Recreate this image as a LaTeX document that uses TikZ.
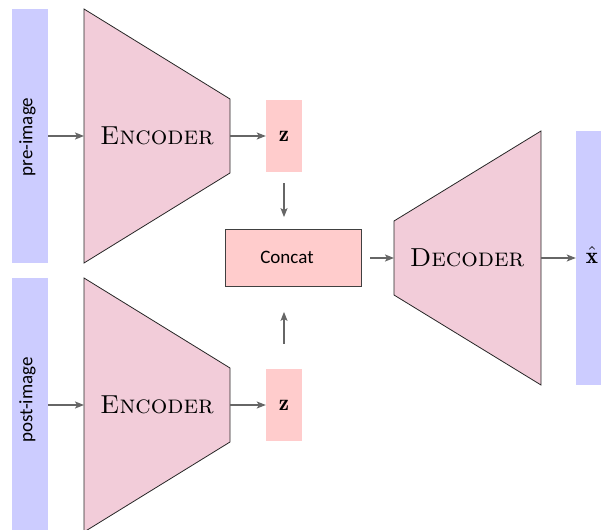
\documentclass[tikz,border=0pt]{standalone}
\usepackage{fontspec}
\newfontfamily\calibri{Carlito}
\usetikzlibrary{arrows.meta}

\begin{document}
\begin{tikzpicture}[x=1pt,y=-1pt,
  bar/.style={fill=blue!20, draw=none, minimum width=36pt, minimum height=254pt, inner sep=0pt},
  zbox/.style={fill=red!20, draw=none, minimum width=36pt, minimum height=72pt, inner sep=0pt},
  concatbox/.style={fill=red!20, draw=black!75, line width=0.8pt, minimum width=136pt,
    minimum height=57pt, inner sep=0pt},
  plainlabel/.style={font=\calibri\fontsize{19}{23}\selectfont, inner sep=0pt},
  coder/.style={fill=purple!20, draw=black!85, line width=0.8pt, line join=miter},
  coderlabel/.style={font=\fontsize{26}{30}\selectfont\scshape, inner sep=0pt},
  sidelabel/.style={font=\calibri\fontsize{19}{23}\selectfont, rotate=90, inner sep=0pt},
  arr/.style={draw=black!60, line width=1.3pt, -{Stealth[length=9pt,width=7pt,inset=2pt]}}
]
\useasboundingbox (0,0) rectangle (601,529);
\clip (0,0) rectangle (601,529);

% input and output strips
\node[bar] (pre)  at (30,136) {};
\node[bar] (post) at (30,405) {};
\node[bar] (out)  at (594,258) {};
\node[sidelabel] (prelbl)  at (27.5,137) {pre-image};
\node[sidelabel] (postlbl) at (27.5,400) {post-image};

% encoders
\draw[coder] (84,9) -- (230,99) -- (230,173) -- (84,263) -- cycle;
\draw[coder] (84,278) -- (230,368) -- (230,442) -- (84,532) -- cycle;
\coordinate (enc1in)  at (84,136);
\coordinate (enc1out) at (230,136);
\coordinate (enc2in)  at (84,405);
\coordinate (enc2out) at (230,405);
\node[coderlabel] (enc1) at (157,136) {Encoder};
\node[coderlabel] (enc2) at (157,405) {Encoder};

% latent codes and concatenation
\node[zbox] (z1) at (284,136) {\scalebox{2.3}{$\mathbf{z}$}};
\node[zbox] (z2) at (284,405) {\scalebox{2.3}{$\mathbf{z}$}};
\node[concatbox] (concat) at (293,258) {};
\node[plainlabel] (concatlbl) at (287,257) {Concat};

% decoder
\draw[coder] (394,221) -- (541,131) -- (541,385) -- (394,295) -- cycle;
\coordinate (decin)  at (394,258);
\coordinate (decout) at (541,258);
\node[coderlabel] (dec) at (467,258) {Decoder};
\node[inner sep=0pt] (xhat) at (592,255) {\scalebox{2.3}{$\hat{\mathbf{x}}$}};

% connections
\draw[arr] (pre) -- (enc1in);
\draw[arr] (post) -- (enc2in);
\draw[arr] (enc1out) -- (z1);
\draw[arr] (enc2out) -- (z2);
\draw[arr, shorten <=11pt, shorten >=12pt] (z1.south) -- (z1.south |- concat.north);
\draw[arr, shorten <=25pt, shorten >=25pt] (z2.north) -- (z2.north |- concat.south);
\draw[arr, shorten <=9pt] (concat) -- (decin);
\draw[arr] (decout) -- (out);
\end{tikzpicture}
\end{document}
